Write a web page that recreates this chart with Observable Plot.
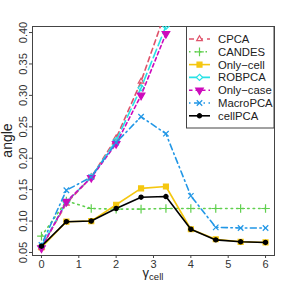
<!DOCTYPE html>
<html><head><meta charset="utf-8">
<script src="https://cdn.jsdelivr.net/npm/d3@7"></script>
<script src="https://cdn.jsdelivr.net/npm/@observablehq/plot@0.6"></script>
<style>body{margin:0;background:#fff}#c{position:relative;width:288px;height:288px}</style>
</head><body><div id="c"></div>
<script>
const gammaX = [0, 0.667, 1.333, 2, 2.667, 3.333, 4, 4.667, 5.333, 6];
const xTicks = [0, 1, 2, 3, 4, 5, 6];
const yTicks = [0.05, 0.10, 0.15, 0.20, 0.25, 0.30, 0.35, 0.40];
const methods = ["CPCA", "CANDES", "Only\u2212cell", "ROBPCA", "Only\u2212case", "MacroPCA", "cellPCA"];
const cpca     = [0.058, 0.128, 0.170, 0.232, 0.322, 0.435];
const candes   = [0.076, 0.132, 0.120, 0.119, 0.119, 0.120, 0.120, 0.120, 0.120, 0.120];
const onlyCell = [0.058, 0.099, 0.100, 0.126, 0.152, 0.155, 0.087, 0.071, 0.067, 0.066];
const robpca   = [0.060, 0.130, 0.170, 0.228, 0.312, 0.410];
const onlyCase = [0.057, 0.131, 0.169, 0.223, 0.300, 0.398];
const macroPCA = [0.062, 0.149, 0.170, 0.225, 0.266, 0.239, 0.140, 0.090, 0.089, 0.089];
const cellPCA  = [0.060, 0.099, 0.100, 0.120, 0.138, 0.139, 0.087, 0.070, 0.067, 0.066];

const seriesVals = [cpca, candes, onlyCell, robpca, onlyCase, macroPCA, cellPCA];
const colors = ["#DF536B", "#61D04F", "#F5C710", "#28E2E5", "#CD0BBC", "#2297E6", "#000000"];
const dashes = ["5,4", "1.5,4", null, "9,4", "3.5,3", "1.5,3.5,6,3.5", null];
const symbols = ["triangle2", "plus", "square", "diamond2", "triangle", "times", "circle"];
const filled = [false, false, true, false, true, false, true];
const rotates = [0, 0, 0, 0, 180, 0, 0];
const radii = [2.7, 2.9, 2.8, 2.8, 2.8, 2.6, 2.1];

const series = seriesVals.map((vals, i) => ({
  name: methods[i], color: colors[i], dash: dashes[i], symbol: symbols[i], filled: filled[i], rotate: rotates[i], r: radii[i],
  data: vals.map((v, j) => ({x: gammaX[j], y: v}))
}));

const marks = [
  Plot.frame({stroke: "#444", strokeWidth: 1}),
  Plot.axisX({ticks: xTicks, tickFormat: d3.format("d"), tickSize: 3, tickPadding: 2, label: null, stroke: "#444", fill: "#333", fontSize: 11}),
  Plot.axisY({ticks: yTicks, tickFormat: d3.format(".2f"), tickRotate: -90, tickSize: 3, tickPadding: 3, label: null, stroke: "#444", fill: "#333", fontSize: 11})
];
for (const s of series) {
  marks.push(Plot.line(s.data, {x: "x", y: "y", stroke: s.color, strokeWidth: 1.6, strokeDasharray: s.dash, clip: true}));
  marks.push(Plot.dot(s.data, {x: "x", y: "y", symbol: () => s.symbol, r: s.r, rotate: s.rotate,
    fill: s.filled ? s.color : "none", stroke: s.color, strokeWidth: 1.2, clip: true}));
}

const chart = Plot.plot({
  width: 288, height: 288,
  marginLeft: 32, marginRight: 14, marginTop: 26, marginBottom: 33,
  style: {fontFamily: "'Liberation Sans', Arial, sans-serif", fontSize: "11px", background: "#fff", color: "#333"},
  x: {domain: [-0.24, 6.24]},
  y: {domain: [0.0452, 0.4096]},
  symbol: {type: "identity"},
  marks
});
document.getElementById("c").appendChild(chart);

// annotations: axis titles and legend
const svg = d3.select(chart);
svg.append("text").attr("transform", "translate(12,140.5) rotate(-90)").attr("text-anchor", "middle")
  .attr("font-size", 14).attr("fill", "#222").text("angle");
const xl = svg.append("text").attr("x", 153).attr("y", 277).attr("text-anchor", "middle").attr("fill", "#222");
xl.append("tspan").attr("font-size", 13).text("\u03B3");
xl.append("tspan").attr("font-size", 9.5).attr("dy", 2.5).text("cell");

const lg = svg.append("g");
lg.append("rect").attr("x", 186.5).attr("y", 26.5).attr("width", 87.5).attr("height", 101.5).attr("fill", "#fff").attr("stroke", "#444");
const sym = {triangle2: d3.symbolTriangle2, plus: d3.symbolPlus, square: d3.symbolSquare, diamond2: d3.symbolDiamond2, triangle: d3.symbolTriangle, times: d3.symbolTimes, circle: d3.symbolCircle};
series.forEach((s, i) => {
  const y = 39 + i * 12.8;
  lg.append("line").attr("x1", 189).attr("x2", 210).attr("y1", y).attr("y2", y)
    .attr("stroke", s.color).attr("stroke-width", 1.6).attr("stroke-dasharray", s.dash);
  lg.append("path").attr("d", d3.symbol(sym[s.symbol], Math.PI * s.r * s.r)())
    .attr("transform", `translate(199.5,${y}) rotate(${s.rotate})`)
    .attr("fill", s.filled ? s.color : "#fff").attr("stroke", s.color).attr("stroke-width", 1.2);
  lg.append("text").attr("x", 218).attr("y", y).attr("dy", "0.36em").attr("text-anchor", "start")
    .attr("font-size", 11.3).attr("fill", "#222").text(s.name);
});
</script>
</body></html>
